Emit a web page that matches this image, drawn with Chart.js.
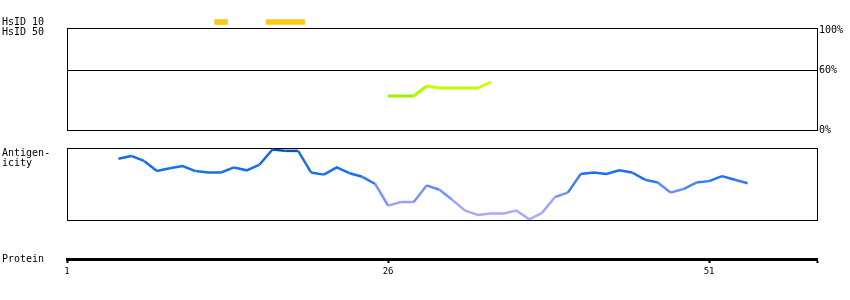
<!DOCTYPE html>
<html>
<head>
<meta charset="utf-8">
<script src="https://cdn.jsdelivr.net/npm/chart.js@4"></script>
<style>
  body { margin: 0; background: #fff; width: 850px; height: 300px; position: relative; overflow: hidden; }
  canvas { position: absolute; left: 0; }
  .lbl { position: absolute; left: 2px; font: 10px 'DejaVu Sans Mono', monospace; line-height: 10px; color: #000; white-space: pre; }
</style>
</head>
<body>
<canvas id="identityChart" width="850" height="120" style="top:20px"></canvas>
<canvas id="hsidChart" width="850" height="20" style="top:17px"></canvas>
<canvas id="antigenChart" width="850" height="90" style="top:140px"></canvas>
<canvas id="proteinChart" width="850" height="40" style="top:241px"></canvas>
<div class="lbl" style="top:148px">Antigen-
icity</div>
<div class="lbl" style="top:254px">Protein</div>
<script>
// residue axis
const residueMin = 1;
const residueMax = 59.4;
const proteinTicks = [1, 26, 51];

// HsID rows
const hsidRows = ['HsID 10', 'HsID 50'];
const hsid10Ranges = [[12.5, 13.5], [16.5, 19.5]];

// identity panel (%)
const identityTicks = [0, 60, 100];
const identityMax = 102;
const identityResidues = [26, 27, 28, 29, 30, 31, 32, 33, 34];
const identityValues = [34, 34, 34, 44, 42, 42, 42, 42, 48];

// antigenicity score
const antigenResidues = [5, 6, 7, 8, 9, 10, 11, 12, 13, 14, 15, 16, 17, 18, 19, 20, 21, 22, 23, 24, 25, 26, 27, 28, 29,
  30, 31, 32, 33, 34, 35, 36, 37, 38, 39, 40, 41, 42, 43, 44, 45, 46, 47, 48, 49, 50, 51, 52, 53, 54];
const antigenValues = [0.85, 0.89, 0.82, 0.68, 0.72, 0.75, 0.68, 0.66, 0.66, 0.73, 0.69, 0.77, 0.98, 0.96, 0.96, 0.66,
  0.63, 0.73, 0.65, 0.60, 0.50, 0.20, 0.25, 0.25, 0.48, 0.42, 0.28, 0.13, 0.07, 0.09, 0.09, 0.13, 0.01, 0.10, 0.32,
  0.38, 0.64, 0.66, 0.64, 0.69, 0.66, 0.56, 0.52, 0.38, 0.43, 0.52, 0.54, 0.61, 0.56, 0.51];

const monoFont = { family: "'DejaVu Sans Mono', monospace", size: 10 };

function hex(c) { return [1, 3, 5].map(i => parseInt(c.substr(i, 2), 16)); }
function ramp(stops, v) {
  if (v <= stops[0][0]) return stops[0][1];
  for (let i = 1; i < stops.length; i++) {
    if (v <= stops[i][0]) {
      const t = (v - stops[i - 1][0]) / (stops[i][0] - stops[i - 1][0]);
      const a = hex(stops[i - 1][1]), b = hex(stops[i][1]);
      return 'rgb(' + a.map((x, k) => Math.round(x + (b[k] - x) * t)).join(',') + ')';
    }
  }
  return stops[stops.length - 1][1];
}
const antigenStops = [[0.12, '#aaa8ff'], [0.25, '#9c9eff'], [0.45, '#5a8af6'], [0.6, '#1a6ef0'], [0.85, '#1a6ee8'], [0.97, '#0050b0']];
const identityStops = [[34, '#9cf000'], [44, '#c8ff00']];

// draws the black frame around a panel
const framePlugin = {
  id: 'frame',
  beforeDatasetsDraw(chart) {
    const { ctx, chartArea: a } = chart;
    ctx.save();
    ctx.strokeStyle = '#000';
    ctx.lineWidth = 1;
    ctx.strokeRect(Math.round(a.left) + 0.5, Math.round(a.top) + 0.5, Math.round(a.right - a.left), Math.round(a.bottom - a.top));
    ctx.restore();
  }
};

const residueAxis = { type: 'linear', min: residueMin, max: residueMax, display: false };

// HsID bars
new Chart(document.getElementById('hsidChart'), {
  type: 'bar',
  data: {
    labels: hsidRows,
    datasets: hsid10Ranges.map(r => ({
      data: [r, null],
      backgroundColor: '#fcc91a',
      barThickness: 5,
      grouped: false
    }))
  },
  options: {
    indexAxis: 'y',
    responsive: false,
    animation: false,
    layout: { padding: { left: 2, right: 33 } },
    plugins: { legend: { display: false }, tooltip: { enabled: false } },
    scales: {
      x: residueAxis,
      y: {
        grid: { display: false },
        border: { display: false },
        ticks: { color: '#000', font: monoFont, crossAlign: 'far', padding: 0, autoSkip: false },
        afterFit: axis => { axis.width = 65; axis.paddingTop = 0; axis.paddingBottom = 0; }
      }
    }
  }
});

// identity panel
new Chart(document.getElementById('identityChart'), {
  type: 'line',
  data: {
    datasets: [{
      data: identityResidues.map((r, i) => ({ x: r, y: identityValues[i] })),
      borderWidth: 3,
      pointRadius: 0,
      borderColor: '#b0f500',
      segment: { borderColor: c => ramp(identityStops, (c.p0.parsed.y + c.p1.parsed.y) / 2) }
    }]
  },
  options: {
    responsive: false,
    animation: false,
    layout: { padding: { left: 67, top: 8, bottom: 10 } },
    plugins: { legend: { display: false }, tooltip: { enabled: false } },
    scales: {
      x: residueAxis,
      y: {
        position: 'right',
        min: 0,
        max: identityMax,
        afterBuildTicks: axis => { axis.ticks = identityTicks.map(v => ({ value: v })); },
        afterFit: axis => { axis.width = 33; },
        grid: { color: c => (c.tick && c.tick.value === 60 ? '#000' : 'rgba(0,0,0,0)'), lineWidth: 1, drawTicks: false },
        border: { display: true, color: '#000', width: 1 },
        ticks: { color: '#000', font: monoFont, padding: 2, callback: v => v + '%' }
      }
    }
  },
  plugins: [framePlugin]
});

// antigenicity panel
new Chart(document.getElementById('antigenChart'), {
  type: 'line',
  data: {
    datasets: [{
      data: antigenResidues.map((r, i) => ({ x: r, y: antigenValues[i] })),
      borderWidth: 2.5,
      pointRadius: 0,
      borderColor: '#1a6ef0',
      segment: { borderColor: c => ramp(antigenStops, (c.p0.parsed.y + c.p1.parsed.y) / 2) }
    }]
  },
  options: {
    responsive: false,
    animation: false,
    layout: { padding: { left: 67, right: 33, top: 8, bottom: 10 } },
    plugins: { legend: { display: false }, tooltip: { enabled: false } },
    scales: {
      x: residueAxis,
      y: { min: 0, max: 1, display: false }
    }
  },
  plugins: [framePlugin]
});

// protein ruler
new Chart(document.getElementById('proteinChart'), {
  type: 'line',
  data: { datasets: [] },
  options: {
    responsive: false,
    animation: false,
    layout: { padding: { left: 67, right: 33 } },
    plugins: { legend: { display: false }, tooltip: { enabled: false } },
    scales: {
      x: {
        type: 'linear',
        min: residueMin,
        max: residueMax,
        afterBuildTicks: axis => { axis.ticks = proteinTicks.concat([residueMax]).map(v => ({ value: v })); },
        afterFit: axis => { axis.height = 22; },
        grid: { drawOnChartArea: false, drawTicks: true, tickLength: 4, tickWidth: 2, tickColor: '#000' },
        border: { display: true, color: '#000', width: 3 },
        ticks: {
          color: '#000',
          font: { family: "'DejaVu Sans Mono', monospace", size: 9 },
          padding: 3,
          maxRotation: 0,
          autoSkip: false,
          callback: v => (v === residueMax ? '' : v)
        }
      },
      y: { display: false }
    }
  }
});
</script>
</body>
</html>
